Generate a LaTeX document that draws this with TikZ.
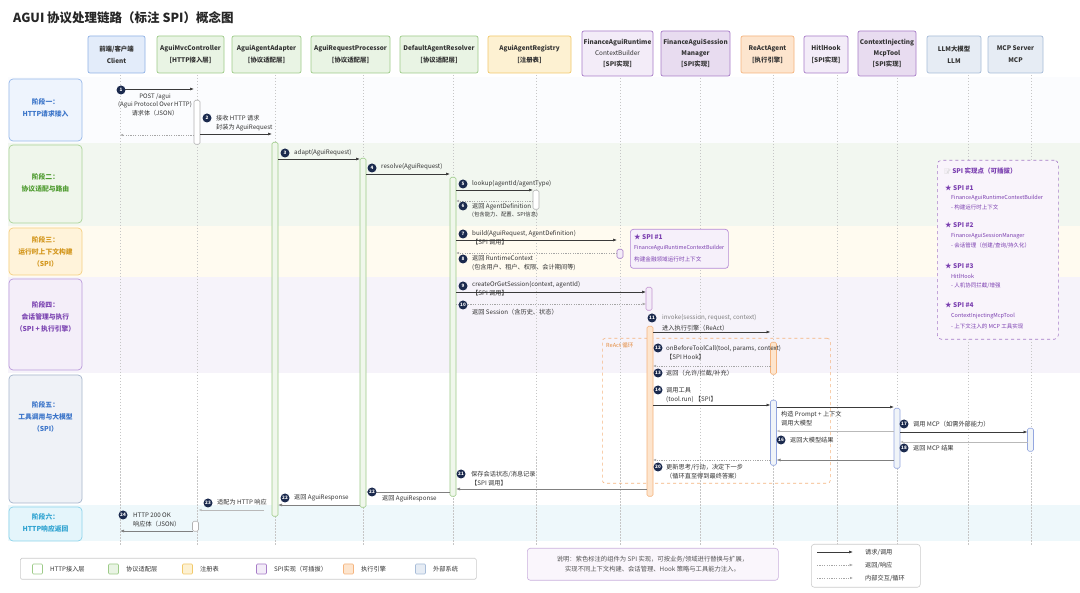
\documentclass[tikz,border=0pt]{standalone}
\usepackage{fontspec}
\setmainfont{Noto Sans CJK SC}
\newfontfamily\emojifont{Noto Emoji}
\usetikzlibrary{arrows.meta}
\definecolor{navy}{HTML}{1B2A4E}
\definecolor{txt}{HTML}{333333}
\definecolor{arrowc}{HTML}{3A3A3A}
\definecolor{cliF}{HTML}{E3ECFA}\definecolor{cliD}{HTML}{8FB2E6}
\definecolor{grnF}{HTML}{E9F4E4}\definecolor{grnD}{HTML}{9DCB88}
\definecolor{yelF}{HTML}{FDF1D2}\definecolor{yelD}{HTML}{F2C96A}
\definecolor{purF}{HTML}{F3ECF8}\definecolor{purD}{HTML}{A77CC8}
\definecolor{purF2}{HTML}{E8DCF0}
\definecolor{orgF}{HTML}{FDE5CE}\definecolor{orgD}{HTML}{F5B47E}\definecolor{orgT}{HTML}{E48A3C}
\definecolor{extF}{HTML}{E6ECF4}\definecolor{extD}{HTML}{A7BCD8}
\definecolor{bA}{HTML}{FBFCFE}\definecolor{bB}{HTML}{F2F7F0}\definecolor{bC}{HTML}{FFFBF0}
\definecolor{bD}{HTML}{F6F3FA}\definecolor{bE}{HTML}{FFFFFF}\definecolor{bF}{HTML}{EEF8FB}
\definecolor{sAF}{HTML}{EEF4FD}\definecolor{sAD}{HTML}{98B9EA}\definecolor{sAT}{HTML}{3A74C9}
\definecolor{sBF}{HTML}{EFF6EB}\definecolor{sBD}{HTML}{AAD397}\definecolor{sBT}{HTML}{4E9B2F}
\definecolor{sCF}{HTML}{FFF3DA}\definecolor{sCD}{HTML}{F4CF82}\definecolor{sCT}{HTML}{D3961C}
\definecolor{sDF}{HTML}{F4EEF9}\definecolor{sDD}{HTML}{BA9ADB}\definecolor{sDT}{HTML}{7C45B2}
\definecolor{sEF}{HTML}{EFF2F7}\definecolor{sED}{HTML}{A6B5CC}\definecolor{sET}{HTML}{3A74C9}
\definecolor{sFF}{HTML}{E4F5FB}\definecolor{sFD}{HTML}{8CD3EA}\definecolor{sFT}{HTML}{2FA3D1}
\definecolor{spiT}{HTML}{7B3FB0}\definecolor{spiD}{HTML}{B58AD6}\definecolor{spiF}{HTML}{F6F0FA}
\newcommand\msg[5]{\coordinate (#1a) at (#3,#5);\coordinate (#1b) at (#4,#5);\draw[#2] (#1a) -- (#1b);}
\newcommand\actbar[5]{\node[#2,minimum height={(#5-#4)*1pt},anchor=north] (#1) at (#3,#4) {};}
\newcommand\numc[4]{\node[numb] (#1) at (#2,#3) {#4};}
\begin{document}
\begin{tikzpicture}[x=1pt,y=-1pt,
  hdr/.style={rounded corners=2pt,line width=0.7pt,align=center,inner sep=0,font=\fontsize{6.4}{12}\selectfont\bfseries,text=txt},
  hdr3/.style={hdr,font=\fontsize{6.4}{11}\selectfont\bfseries},
  sbox/.style={rounded corners=4pt,line width=0.7pt,minimum width=73pt,inner sep=0},
  stxt/.style={align=center,inner sep=0,font=\fontsize{6.8}{12}\selectfont\bfseries},
  lifeline/.style={draw=gray!45,line width=0.45pt,dash pattern=on 1.5pt off 1.5pt},
  bar/.style={rounded corners=1.5pt,line width=0.6pt,minimum width=6pt,inner sep=0},
  barG/.style={bar,draw=grnD,fill=grnF!70},
  barK/.style={bar,draw=gray!60,fill=white},
  barP/.style={bar,draw=purD,fill=purF},
  barS/.style={bar,draw=spiD!80!pink,fill=purF},
  barO/.style={bar,draw=orgD,fill=orgF},
  barB/.style={bar,draw=cliD!80!purD,fill=extF!60},
  req/.style={draw=arrowc,line width=0.6pt,-{Latex[length=4pt,width=3pt]}},
  retd/.style={draw=gray!70,line width=0.5pt,dash pattern=on 1.2pt off 1.2pt,-{Latex[open,length=3pt,width=2.6pt]}},
  retdf/.style={draw=gray!70,line width=0.5pt,dash pattern=on 1.2pt off 1.2pt,-{Latex[length=3.5pt,width=2.8pt]}},
  rets/.style={draw=gray,line width=0.6pt,-{Latex[length=4pt,width=3pt]}},
  retl/.style={draw=gray!55,line width=0.6pt,-{Latex[open,length=3pt,width=2.6pt]}},
  numb/.style={circle,fill=navy,text=white,inner sep=0,minimum size=9pt,font=\fontsize{4.6}{5}\selectfont\bfseries},
  lbl/.style={anchor=west,inner sep=0,font=\fontsize{6.2}{9}\selectfont,text=txt,align=left},
  sq/.style={minimum size=10pt,inner sep=0,line width=0.6pt,rounded corners=1pt},
  lgt/.style={anchor=west,inner sep=0,font=\fontsize{6.2}{8}\selectfont,text=txt}
]
\useasboundingbox (0,0) rectangle (1080,593);
\fill[white] (0,0) rectangle (1080,593);
% title
\node[anchor=west,inner sep=0,font=\fontsize{12.5}{14}\selectfont\bfseries,text=black!85] (title) at (13,17.5) {AGUI 协议处理链路（标注 SPI）概念图};
% bands
\fill[bA] (8,77) rectangle (1080,143);
\fill[bB] (8,143) rectangle (1080,226);
\fill[bC] (8,226) rectangle (1080,277);
\fill[bD] (8,277) rectangle (1080,373);
\fill[bE] (8,373) rectangle (1080,505);
\fill[bF] (8,505) rectangle (1080,541);
% stage boxes
\node[sbox,draw=sAD,fill=sAF,minimum height=62pt] (st1) at (45.5,110) {};
\node[stxt,text=sAT] (st1t) at (45.5,108) {阶段一：\\HTTP请求接入};
\node[sbox,draw=sBD,fill=sBF,minimum height=78pt] (st2) at (45.5,184) {};
\node[stxt,text=sBT] (st2t) at (45.5,183) {阶段二：\\协议适配与路由};
\node[sbox,draw=sCD,fill=sCF,minimum height=47pt] (st3) at (45.5,251.5) {};
\node[stxt,text=sCT] (st3t) at (45.5,251.5) {阶段三：\\运行时上下文构建\\（SPI）};
\node[sbox,draw=sDD,fill=sDF,minimum height=91pt] (st4) at (45.5,324.5) {};
\node[stxt,text=sDT] (st4t) at (45.5,317) {阶段四：\\会话管理与执行\\（SPI + 执行引擎）};
\node[sbox,draw=sED,fill=sEF,minimum height=128pt] (st5) at (45.5,439) {};
\node[stxt,text=sET] (st5t) at (45.5,417) {阶段五：\\工具调用与大模型\\（SPI）};
\node[sbox,draw=sFD,fill=sFF,minimum height=34pt] (st6) at (45.5,524) {};
\node[stxt,text=sFT] (st6t) at (45.5,522.5) {阶段六：\\HTTP响应返回};
% lifelines
\foreach \x in {120,197,275,363,453,536,620,700,773,837,897,968,1031}{\draw[lifeline] (\x,75) -- (\x,545);}
% headers
\node[hdr,draw=cliD,fill=cliF,minimum width=57pt,minimum height=37pt] (client) at (116.5,54.5) {前端/客户端\\Client};
\node[hdr,draw=grnD,fill=grnF,minimum width=67pt,minimum height=37pt] (mvc) at (190.5,54.5) {AguiMvcController\\{[}HTTP接入层{]}};
\node[hdr,draw=grnD,fill=grnF,minimum width=69pt,minimum height=37pt] (adapter) at (266.5,54.5) {AguiAgentAdapter\\{[}协议适配层{]}};
\node[hdr,draw=grnD,fill=grnF,minimum width=79pt,minimum height=37pt] (proc) at (350.5,54.5) {AguiRequestProcessor\\{[}协议适配层{]}};
\node[hdr,draw=grnD,fill=grnF,minimum width=78pt,minimum height=37pt] (resolver) at (439,54.5) {DefaultAgentResolver\\{[}协议适配层{]}};
\node[hdr,draw=yelD,fill=yelF,minimum width=83pt,minimum height=37pt] (registry) at (529.5,54.5) {AguiAgentRegistry\\{[}注册表{]}};
\node[hdr3,draw=purD,fill=purF,minimum width=71pt,minimum height=45pt] (ctxb) at (617.5,53.5) {FinanceAguiRuntime\\{\mdseries ContextBuilder}\\{[}SPI实现{]}};
\node[hdr3,draw=purD,fill=purF2,minimum width=69pt,minimum height=45pt] (sess) at (695.5,53.5) {FinanceAguiSession\\Manager\\{[}SPI实现{]}};
\node[hdr,draw=orgD,fill=orgF,minimum width=53pt,minimum height=37pt] (react) at (767.5,54.5) {ReActAgent\\{[}执行引擎{]}};
\node[hdr,draw=purD,fill=purF,minimum width=44pt,minimum height=37pt] (hitl) at (826,54.5) {HitlHook\\{[}SPI实现{]}};
\node[hdr3,draw=purD,fill=purF2,minimum width=58pt,minimum height=45pt] (ctxinj) at (887,53.5) {ContextInjecting\\McpTool\\{[}SPI实现{]}};
\node[hdr,draw=extD,fill=extF,minimum width=54pt,minimum height=37pt] (llm) at (954,54.5) {LLM大模型\\LLM};
\node[hdr,draw=extD,fill=extF,minimum width=55pt,minimum height=37pt] (mcp) at (1015.5,54.5) {MCP Server\\MCP};
% ReAct loop
\node[draw=orgD,dashed,line width=0.6pt,rounded corners=3pt,minimum width=228pt,minimum height=145pt,anchor=north west,inner sep=0] (loop) at (602,338) {};
\node[anchor=west,inner sep=0,font=\fontsize{5.6}{7}\selectfont,text=orgT] (looplbl) at (606,345) {ReAct 循环};
% activation bars
\actbar{b1}{barK}{197}{100}{144}
\actbar{b2}{barG}{275}{142}{516}
\actbar{b3}{barG}{363}{158}{507}
\actbar{b4}{barG}{453}{177}{496}
\actbar{b5}{barK}{536}{190}{209}
\actbar{b6}{barP}{620}{249}{258}
\actbar{b7}{barS}{649}{287}{310}
\actbar{b8}{barO}{650}{326}{496}
\actbar{b9}{barO}{773.5}{342}{374}
\actbar{b10}{barB}{773.5}{400}{465}
\actbar{b11}{barB}{897}{408}{468}
\actbar{b12}{barB}{1030.5}{428}{451}
\actbar{b13}{barK}{195.5}{521}{531}
% messages
\msg{m1}{req}{125}{194}{89}
\msg{m1r}{retd}{194}{120}{135}
\msg{m2}{req}{200}{272}{134}
\msg{m3}{req}{278}{360}{159}
\msg{m4}{req}{366}{450}{174}
\msg{m5}{req}{456}{533}{190}
\msg{m6}{retd}{533}{456}{201}
\msg{m7}{req}{456}{617}{240}
\msg{m8}{retd}{617}{456}{253}
\msg{m9}{req}{456}{646}{292}
\msg{m10}{retdf}{456}{646}{304}
\msg{m11}{req}{653}{770.5}{332}
\msg{m13}{retd}{770.5}{653}{366}
\msg{m14}{req}{653}{770.5}{405}
\msg{m15}{req}{776.5}{894}{407}
\msg{m16}{retl}{894}{776.5}{431}
\msg{m17}{req}{900}{1027.5}{432}
\msg{m18}{retl}{1027.5}{900}{442}
\msg{m19}{rets}{894}{776.5}{460}
\msg{m20}{retd}{770.5}{653}{460}
\msg{m21}{rets}{647}{456}{489}
\msg{m22}{rets}{450}{366}{492}
\msg{m22b}{rets}{360}{278}{505}
\msg{m23}{retl}{264}{198.5}{510}
\msg{m24}{rets}{192.5}{120}{531}
% numbers
\numc{n1}{121}{90}{1}
\numc{n2}{207}{118}{2}
\numc{n3}{285}{153}{3}
\numc{n4}{372}{168}{4}
\numc{n5}{463}{184}{5}
\numc{n6}{463}{206}{6}
\numc{n7}{463}{234}{7}
\numc{n8}{463}{259}{8}
\numc{n9}{463}{286}{9}
\numc{n10}{463}{305}{10}
\numc{n11}{652}{318}{11}
\numc{n12}{658}{348}{12}
\numc{n13}{658}{373}{13}
\numc{n14}{658}{390}{14}
\numc{n16}{781}{440}{16}
\numc{n17}{904}{424}{17}
\numc{n18}{904}{448}{18}
\numc{n20}{658}{467}{20}
\numc{n21}{461}{474}{21}
\numc{n22}{372}{492}{22}
\numc{n22b}{285}{498}{22}
\numc{n23}{208}{503}{23}
\numc{n24}{123}{515}{24}
% labels
\node[lbl,anchor=center,align=center,font=\fontsize{6.1}{8.5}\selectfont] (t1) at (155,104.5) {POST /agui\\(Agui Protocol Over HTTP)\\请求体（JSON）};
\node[lbl] (t2) at (216,123) {接收 HTTP 请求\\封装为 AguiRequest};
\node[lbl] (t3) at (294,153) {adapt(AguiRequest)};
\node[lbl] (t4) at (381,167) {resolve(AguiRequest)};
\node[lbl] (t5) at (472,184) {lookup(agentId/agentType)};
\node[lbl,font=\fontsize{6.2}{8}\selectfont] (t6) at (472,210) {返回 AgentDefinition\\{\fontsize{5.4}{6}\selectfont (包含能力、配置、SPI信息)}};
\node[lbl] (t7) at (472,237.5) {build(AguiRequest, AgentDefinition)\\【SPI 调用】};
\node[lbl] (t8) at (472,263.5) {返回 RuntimeContext\\(包含用户、租户、权限、会计期间等)};
\node[lbl] (t9) at (472,289) {createOrGetSession(context, agentId)\\【SPI 调用】};
\node[lbl] (t10) at (472,312) {返回 Session（含历史、状态）};
\node[lbl,text=gray] (t11a) at (662,318) {invoke(session, request, context)};
\node[lbl] (t11b) at (662,328) {进入执行引擎（ReAct）};
\node[lbl] (t12) at (666,352.5) {onBeforeToolCall(tool, params, context)\\【SPI Hook】};
\node[lbl] (t13) at (666,373) {返回（允许/拦截/补充）};
\node[lbl] (t14) at (666,395) {调用工具\\(tool.run) 【SPI】};
\node[lbl] (t15) at (781,418.5) {构造 Prompt + 上下文\\调用大模型};
\node[lbl] (t16) at (790,440) {返回大模型结果};
\node[lbl] (t17) at (913,424) {调用 MCP（如需外部能力）};
\node[lbl] (t18) at (913,448) {返回 MCP 结果};
\node[lbl] (t20) at (666,472) {更新思考/行动，决定下一步\\（循环直至得到最终答案）};
\node[lbl] (t21) at (471,478.5) {保存会话状态/消息记录\\【SPI 调用】};
\node[lbl] (t22) at (382,499) {返回 AguiResponse};
\node[lbl] (t22b) at (294,498) {返回 AguiResponse};
\node[lbl] (t23) at (217,502) {适配为 HTTP 响应};
\node[lbl] (t24) at (133,520) {HTTP 200 OK\\响应体（JSON）};
% SPI #1 callout
\node[draw=spiD,fill=spiF,line width=0.7pt,rounded corners=3pt,minimum width=98pt,minimum height=39pt,anchor=north west,inner sep=0] (spi1) at (630,229) {};
\node[lbl,text=spiT,font=\fontsize{6.5}{8}\selectfont\bfseries] (spi1a) at (634,237) {★ SPI \#1};
\node[lbl,text=spiT,font=\fontsize{5.4}{7}\selectfont] (spi1b) at (634,248) {FinanceAguiRuntimeContextBuilder};
\node[lbl,text=spiT,font=\fontsize{5.6}{7}\selectfont] (spi1c) at (634,259) {构建金融领域运行时上下文};
% SPI list box
\node[draw=purD,fill=spiF!70,dashed,line width=0.6pt,rounded corners=4pt,minimum width=121pt,minimum height=179pt,anchor=north west,inner sep=0] (spibox) at (937,160) {};
\node[lbl,text=spiT,font=\fontsize{6.5}{8}\selectfont\bfseries] (spih) at (944,171) {{\emojifont\color{gray!40}\fontsize{5.5}{6}\selectfont 📝}\,SPI 实现点（可插拔）};
\node[lbl,text=spiT,font=\fontsize{6.5}{8}\selectfont\bfseries] (sp1) at (945,188) {★ SPI \#1};
\node[lbl,text=spiT,font=\fontsize{5.5}{7}\selectfont] (sp1b) at (951,198) {FinanceAguiRuntimeContextBuilder};
\node[lbl,text=spiT,font=\fontsize{5.5}{7}\selectfont] (sp1c) at (951,207) {- 构建运行时上下文};
\node[lbl,text=spiT,font=\fontsize{6.5}{8}\selectfont\bfseries] (sp2) at (945,225) {★ SPI \#2};
\node[lbl,text=spiT,font=\fontsize{5.5}{7}\selectfont] (sp2b) at (951,236) {FinanceAguiSessionManager};
\node[lbl,text=spiT,font=\fontsize{5.5}{7}\selectfont] (sp2c) at (951,246) {- 会话管理（创建/查询/持久化）};
\node[lbl,text=spiT,font=\fontsize{6.5}{8}\selectfont\bfseries] (sp3) at (945,266) {★ SPI \#3};
\node[lbl,text=spiT,font=\fontsize{5.5}{7}\selectfont] (sp3b) at (951,276) {HitlHook};
\node[lbl,text=spiT,font=\fontsize{5.5}{7}\selectfont] (sp3c) at (951,286) {- 人机协同拦截/增强};
\node[lbl,text=spiT,font=\fontsize{6.5}{8}\selectfont\bfseries] (sp4) at (945,305) {★ SPI \#4};
\node[lbl,text=spiT,font=\fontsize{5.5}{7}\selectfont] (sp4b) at (951,316) {ContextInjectingMcpTool};
\node[lbl,text=spiT,font=\fontsize{5.5}{7}\selectfont] (sp4c) at (951,326) {- 上下文注入的 MCP 工具实现};
% legend
\node[draw=gray!40,fill=white,line width=0.6pt,rounded corners=1.5pt,minimum width=456pt,minimum height=21pt,anchor=north west,inner sep=0] (legend) at (20,558) {};
\node[sq,draw=grnD,fill=white] (q1) at (37.5,569) {};
\node[lgt] (q1t) at (50,569) {HTTP接入层};
\node[sq,draw=grnD,fill=grnF] (q2) at (113.5,569) {};
\node[lgt] (q2t) at (126,569) {协议适配层};
\node[sq,draw=yelD,fill=yelF] (q3) at (187.5,569) {};
\node[lgt] (q3t) at (200,569) {注册表};
\node[sq,draw=purD,fill=purF] (q4) at (261.5,569) {};
\node[lgt] (q4t) at (274,569) {SPI实现（可插拔）};
\node[sq,draw=orgD,fill=orgF] (q5) at (348.5,569) {};
\node[lgt] (q5t) at (361,569) {执行引擎};
\node[sq,draw=extD,fill=extF] (q6) at (420.5,569) {};
\node[lgt] (q6t) at (433,569) {外部系统};
% note
\node[draw=purD!60,fill=spiF!60,line width=0.6pt,rounded corners=3pt,minimum width=251pt,minimum height=32pt,anchor=north west,inner sep=0] (note) at (527,548) {};
\node[align=center,inner sep=0,font=\fontsize{6.3}{10}\selectfont,text=txt!85] (notet) at (652.5,564) {说明：紫色标注的组件为 SPI 实现，可按业务/领域进行替换与扩展，\\实现不同上下文构建、会话管理、Hook 策略与工具能力注入。};
% arrow legend
\node[draw=gray!40,fill=white,line width=0.6pt,rounded corners=3pt,minimum width=109pt,minimum height=43pt,anchor=north west,inner sep=0] (alg) at (811,544) {};
\msg{la1}{req}{817}{853}{552}
\msg{la2}{retdf}{817}{853}{565}
\msg{la3}{retd}{817}{853}{578}
\node[lgt] (la1t) at (865,552) {请求/调用};
\node[lgt] (la2t) at (865,565) {返回/响应};
\node[lgt] (la3t) at (865,578) {内部交互/循环};
\end{tikzpicture}
\end{document}
